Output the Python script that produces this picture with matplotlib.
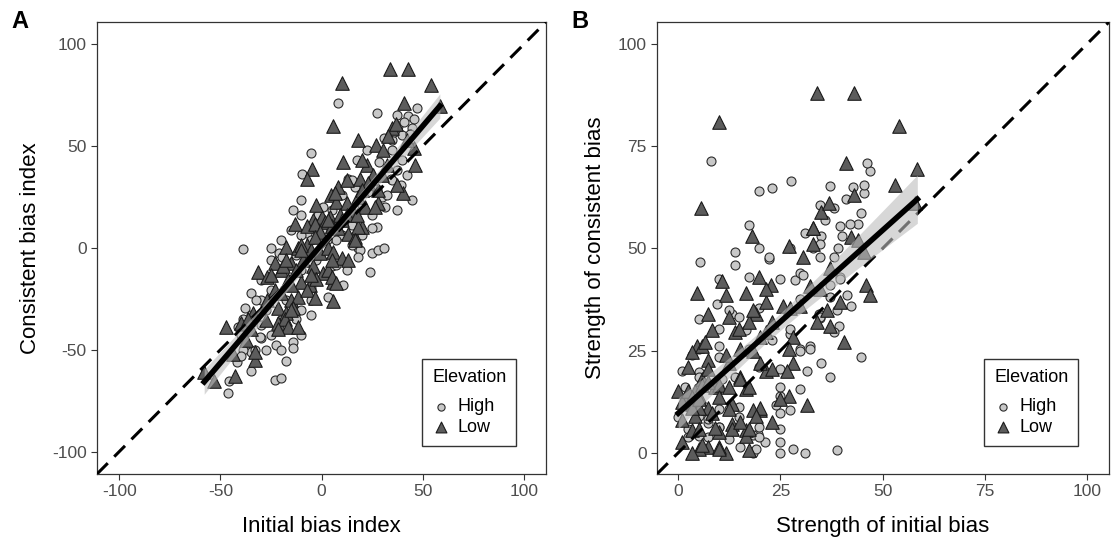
import matplotlib
matplotlib.use("Agg")
import matplotlib.pyplot as plt
import numpy as np

plt.rcParams['font.family'] = ['Liberation Sans', 'DejaVu Sans']
plt.rcParams['axes.unicode_minus'] = False

# initial bias index (x) / consistent bias index (y)
low_x = [34, 43, 10, 54, 41, 58.5, 5.5, 35, 18, 27, 30.6, 45.5, 46, 10.8, -4.5, -7.4, 22.7, 25.6, 19, 40.5,
         8.3, 4.6, 7.4, 12.4, 18.2, 21.5, 28, -13.2, -4, 4, 0, 9, 15, -7.4, -3.3, 1.6, 5, 8.3, 13.2, 16.5,
         20, -17.4, -11.6, -7.4, -5, -0.8, 3.3, 5.8, 10, 13.2, -23, -20, -15, -9, -4, 0.8, 3.3, -31.4, -27, -16.5,
         -10, -5.8, -2.5, 5.8, -23, -20, -15, -11.6, -7.4, -3.3, 5.8, -21.5, -17.4, -14, -34, -47, -39.7, -36.4, -21.5, -18.2,
         -16.5, -11.6, -21.5, -33, -33, -43, -58, -53, 6.6, 23, 28, 26.5, 3.3, 10, 18.2, 16.5, 5, 7.4, -0.8, -3.3,
         -12.4, -19, 20, 12.4, -2.5, -10, -15, -27, -34.7, 12.4, 19.8, 29.8, 37.2, -9.9, -17.4, -24.8, -14.9, -27.3,
         -37.2, 5, -5, 17.4, 32.2, 42.2, 37, 33, -44]
low_y = [88, 88, 81, 80, 71, 69.5, 60, 59, 53, 50.5, 48, 49, 41, 42, 39, 34, 41, 36, 34, 27,
         30, 26, 22.7, 22, 25, 20, 22, 12, 13.7, 15, 15, 16, 18.6, 11, 12, 13, 11, 9.7, 7, 5.5,
         10.4, 0.6, 0, 1.5, -1, -2.6, 0, -1.8, -5, -5.9, -7.5, -11, -7.5, -6, -9, -12.4, -11, -11.6, -14, -15.7,
         -16.5, -18, -15, -16.5, -20.6, -22, -25.5, -24, -20.6, -24.6, -26, -29.5, -32, -29.5, -32, -38.6, -37, -35, -37, -35,
         -39, -38.6, -40, -55, -51, -63, -61, -65.5, 27, 32, 28.4, 20, 13.7, 13.7, 10.4, 4, -14, -17.3, 8, 5.5,
         -10.8, -9, 28.4, 16, 21, 1.5, -18, -25.5, -40, 33.3, 43.1, 35.8, 30.9, -1, -5.9, -13.2, -30.4, -35.3,
         -45.1, -5.9, -13.2, 16.2, 40.7, 52.9, 61, 55, -52]

high_x = [8, 27.6, 47, 42.7, 45.5, 44.7, 31, 35, 39.7, -5.3, 28.6, 34.4, 39.4, -9.4, 13.2, 16.5, 23, 27.3, 31.4, -14,
          -10, -1.6, 0.8, 27.3, 24.8, -38.9, -24.8, -21.2, 18.2, 24.8, 28, 31, 24, -24.8, 10.8, 5, -35, -29.8, -24.8, -5,
          3.3, -38, -34.7, -38.9, -41.3, -37.2, -12.4, -29.8, -24.8, -22.3, -14, -14, -38, -34.7, -17.4, -34.7, -23, -19.8, -46.3, -45.5,
          -19.4, -7.4, 34.7, 14.9, 29.8, 19, 18.2, -30.6, -39, -33, 17.4, 22.3, 34.7, 39.7, 19.8, 10, 5, 0,
          -5, -10, 10, 15, -12.4, -10, -2.5, 7.4, 12.4, -17.4, -10, -5, -27.3, -29.8, -19.8, 37.2, 37.2, 42.2,
          32.2, 37.2, 44.6, 19.8, 24.8, 14.9, 7.4, 2.5, -9.9, -14.9, -19.8, -24.8, -29.8,
          -32.2, -27.3, -19.8, -9.9, -5, -39.7, 38, 41, 36, 44, -42, -40]
high_y = [71.4, 66.5, 69, 65, 63.6, 58.7, 53.8, 53, 55.4, 46.7, 42.3, 34, 31, 36.3, 34, 30, 27.6, 29, 20, 18.6,
          16, 16, 20, 10.4, 9.7, -0.6, 0, -2.6, 0, -2.6, -1, 0, -11.6, -14, -18, -9, -22, -25.5, -20.6, -19.7,
          -24, -29.5, -33, -35, -38.6, -41, -35, -44, -42.6, -47.5, -46, -49, -48, -51, -55.7, -60.6, -64.7, -64, -71, -65.5,
          -4.5, 7.2, 33.3, 33.3, 25, -1, -4.3, -43.5, -50, -50, 43, 48, 48, 43, 21, 26, 18.6, 8.8,
          4, 6.4, 6.4, 1.5, -3.4, -10.8, -5.9, -8.3, -10.8, -25.5, -30.4, -32.8, -30.4, -37.7, -50, 65.2, 38.2, 35.8,
          26, 18.6, 23.5, 6.4, 16.2, 11.3, 3.9, 3.9, 23.5, 8.8, 3.9, -5.9, -15.7,
          -25.5, -50, -35.3, -42.6, -25.5, -42.6, 60, 62, 57, 56, -56, -53]

groups = ['High', 'Low']


def fit_band(x, y, xs):
  # lm fit with 95% confidence band, like geom_smooth(method = "lm")
  n = len(x)
  b1, b0 = np.polyfit(x, y, 1)
  res = y - (b0 + b1 * x)
  s = np.sqrt(np.sum(res**2) / (n - 2))
  se = s * np.sqrt(1 / n + (xs - x.mean())**2 / np.sum((x - x.mean())**2))
  fit = b0 + b1 * xs
  return fit, fit - 1.97 * se, fit + 1.97 * se


def panel(ax, hx, hy, lx, ly, lims, ticks, xlabel, ylabel, tag):
  ax.scatter(hx, hy, s=42, marker='o', facecolor='#c8c8c8', edgecolor='#2b2b2b', lw=0.8, label=groups[0], zorder=2)
  ax.scatter(lx, ly, s=95, marker='^', facecolor='#5c5c5c', edgecolor='#1a1a1a', lw=0.8, label=groups[1], zorder=2)
  ax.plot(lims, lims, color='black', ls=(0, (5, 3)), lw=2.2, zorder=3)

  x = np.concatenate([hx, lx])
  y = np.concatenate([hy, ly])
  xs = np.linspace(x.min(), x.max(), 100)
  fit, lo, hi = fit_band(x, y, xs)
  ax.fill_between(xs, lo, hi, color='#bdbdbd', alpha=0.6, lw=0, zorder=4)
  ax.plot(xs, fit, color='black', lw=4, zorder=5)

  ax.set_xlim(lims)
  ax.set_ylim(lims)
  ax.set_xticks(ticks)
  ax.set_yticks(ticks)
  ax.tick_params(direction='out', length=4, width=0.8, color='#333333', labelsize=12.5, labelcolor='#4d4d4d')
  for sp in ax.spines.values():
    sp.set_color('#333333')
    sp.set_linewidth(0.9)
  ax.set_xlabel(xlabel, fontsize=16, labelpad=12)
  ax.set_ylabel(ylabel, fontsize=16, labelpad=8)
  ax.text(-0.19, 1.0, tag, transform=ax.transAxes, fontsize=17, fontweight='bold', va='center', ha='left')

  leg = ax.legend(title='Elevation', loc='lower left', bbox_to_anchor=(0.724, 0.062), borderaxespad=0,
                  frameon=True, fancybox=False, edgecolor='black', fontsize=13, title_fontsize=13,
                  alignment='left', handletextpad=0.4, borderpad=0.55, labelspacing=0.2,
                  handlelength=1.0, markerscale=0.8)
  leg._legend_box.sep = 9  # extra room under the title
  leg.get_frame().set_linewidth(1.0)


def main():
  fig = plt.figure(figsize=(11.11, 5.41), dpi=100)
  ax1 = fig.add_axes([97 / 1111, 1 - 474 / 541, 449 / 1111, 452 / 541])
  ax2 = fig.add_axes([657 / 1111, 1 - 474 / 541, 452 / 1111, 452 / 541])

  hx, hy = np.array(high_x), np.array(high_y)
  lx, ly = np.array(low_x), np.array(low_y)
  panel(ax1, hx, hy, lx, ly, (-111, 111), [-100, -50, 0, 50, 100],
        'Initial bias index', 'Consistent bias index', 'A')
  # strength = size of the bias, whatever its sign
  panel(ax2, np.abs(hx), np.abs(hy), np.abs(lx), np.abs(ly), (-5.2, 105.4), [0, 25, 50, 75, 100],
        'Strength of initial bias', 'Strength of consistent bias', 'B')

  fig.savefig('out.png', dpi=100)


if __name__ == "__main__":
  main()
